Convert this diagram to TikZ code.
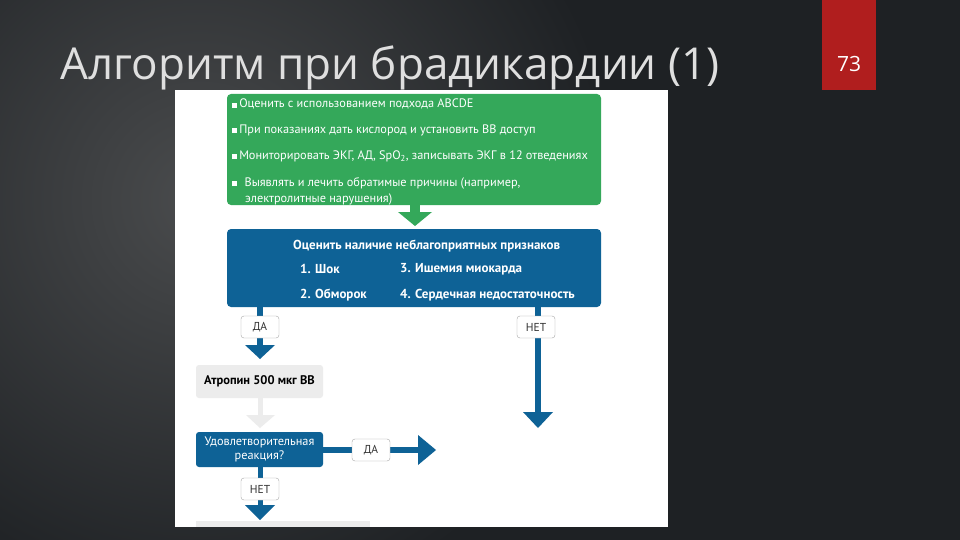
\documentclass[tikz,border=0pt]{standalone}
\usepackage{fontspec}
\setmainfont{PT Sans}
\newfontfamily\titlefont{Open Sans}
\newcommand{\mysq}{\rule{5pt}{5pt}\,}
\begin{document}
\begin{tikzpicture}[x=1pt,y=-1pt,
  gbox/.style={fill=grn,rounded corners=4pt},
  bbox/.style={fill=blu,rounded corners=4pt},
  lbl/.style={draw=gray!70,fill=white,rounded corners=3pt,minimum width=38pt,minimum height=22pt,inner sep=1pt,font=\fontsize{11.5}{12}\selectfont,text=gray!40!black},
  wt/.style={text=white,anchor=west,inner sep=0pt,font=\fontsize{12.3}{13}\selectfont},
  bt/.style={text=white,anchor=west,inner sep=0pt,font=\bfseries\fontsize{13}{14}\selectfont}]
\definecolor{bg}{HTML}{1E2124}
\definecolor{grn}{HTML}{34A85A}
\definecolor{blu}{HTML}{0E6296}
\definecolor{redtab}{HTML}{B01E1E}
\useasboundingbox (0,0) rectangle (960,540);
\fill[bg] (0,0) rectangle (960,540);
\shade[inner color=gray!45!bg,outer color=bg] (200,200) circle (420);
\fill[redtab] (822,0) rectangle (876,90);
\node[text=white,font=\titlefont\fontsize{21}{24}\selectfont] (num) at (849,64) {73};
\node[anchor=base west,text=gray!25,inner sep=0pt,font=\titlefont\fontsize{44}{48}\selectfont] (title) at (60,80) {Алгоритм при брадикардии (1)};
\fill[white] (175,90) rectangle (668,527);
% green box
\path[gbox] (227,94) rectangle (601,205);
\node[wt] (g1) at (232,104) {\mysq Оценить с использованием подхода ABCDE};
\node[wt] (g2) at (232,130) {\mysq При показаниях дать кислород и установить ВВ доступ};
\node[wt] (g3) at (232,156) {\mysq Мониторировать ЭКГ, АД, SpO\textsubscript{2}, записывать ЭКГ в 12 отведениях};
\node[wt] (g4) at (232,183) {\mysq\, Выявлять и лечить обратимые причины (например,};
\node[wt] (g5) at (245,199) {электролитные нарушения)};
\fill[grn] (410,205) rectangle (420,213);
\fill[grn] (398,212) -- (432,212) -- (415,226) -- cycle;
% blue box
\path[bbox] (227,229) rectangle (601,307);
\node[bt] (b0) at (293,246) {Оценить наличие неблагоприятных признаков};
\node[bt] (b1) at (300,269) {1. Шок};
\node[bt] (b3) at (400,269) {3. Ишемия миокарда};
\node[bt] (b2) at (300,295) {2. Обморок};
\node[bt] (b4) at (400,295) {4. Сердечная недостаточность};
% left branch
\fill[blu] (257,307) rectangle (263,346);
\fill[blu] (245,345) -- (275,345) -- (260,359) -- cycle;
\node[lbl] (da1) at (260,327) {ДА};
\fill[blu] (535,307) rectangle (541,414);
\fill[blu] (523,412) -- (553,412) -- (538,428) -- cycle;
\node[lbl] (net1) at (536,327) {НЕТ};
% atropine
\node[fill=gray!15,rounded corners=3pt,minimum width=127pt,minimum height=33pt,font=\bfseries\fontsize{12.5}{13}\selectfont] (atr) at (259.5,381.5) {Атропин 500 мкг ВВ};
\fill[gray!15] (258,398) rectangle (263,416);
\fill[gray!15] (246,415) -- (275,415) -- (260,428) -- cycle;
% decision
\node[fill=blu,rounded corners=3pt,minimum width=127pt,minimum height=35pt,align=center,text=white,inner sep=1pt,font=\fontsize{12.3}{14}\selectfont] (dec) at (259.5,449.5) {Удовлетворительная\\реакция?};
\fill[blu] (323,447) rectangle (420,453);
\fill[blu] (418,435) -- (418,465) -- (436,450) -- cycle;
\node[lbl] (da2) at (371,450) {ДА};
\fill[blu] (258,467) rectangle (263,507);
\fill[blu] (245,505) -- (275,505) -- (260,520) -- cycle;
\node[lbl] (net2) at (260,489) {НЕТ};
\fill[gray!15] (196,521) rectangle (370,527);
\end{tikzpicture}
\end{document}
